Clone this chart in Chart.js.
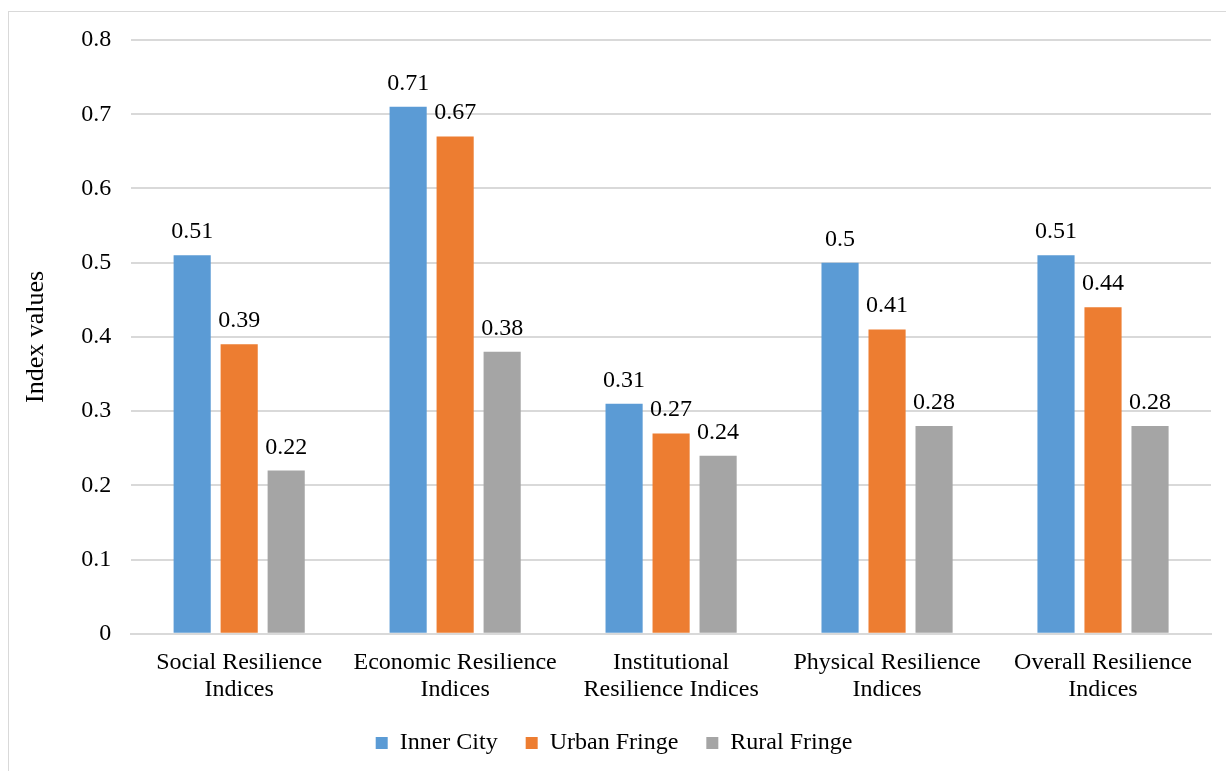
<!DOCTYPE html>
<html>
<head>
<meta charset="utf-8">
<script src="https://cdn.jsdelivr.net/npm/chart.js@4"></script>
<style>
  html, body { margin: 0; padding: 0; background: #fff; overflow: hidden; }
  #frame { position: absolute; left: 8px; top: 11px; width: 1240px; height: 780px; border: 1px solid #d9d9d9; }
  #wrap { position: absolute; left: 0; top: 0; width: 1226px; height: 771px; }
</style>
</head>
<body>
<div id="frame"></div>
<div id="wrap"><canvas id="chart"></canvas></div>
<script>
// categorías y valores
const categories = [
  ['Social Resilience', 'Indices'],
  ['Economic Resilience', 'Indices'],
  ['Institutional', 'Resilience Indices'],
  ['Physical Resilience', 'Indices'],
  ['Overall Resilience', 'Indices']
];
const innerCity = [0.51, 0.71, 0.31, 0.5, 0.51];
const urbanFringe = [0.39, 0.67, 0.27, 0.41, 0.44];
const ruralFringe = [0.22, 0.38, 0.24, 0.28, 0.28];
const yTicks = [0, 0.1, 0.2, 0.3, 0.4, 0.5, 0.6, 0.7, 0.8];

const FONT = "'Liberation Serif', 'Times New Roman', serif";

/* Etiquetas de valor encima de cada barra */
const valueLabels = {
  id: 'valueLabels',
  afterDatasetsDraw(chart) {
    const ctx = chart.ctx;
    ctx.save();
    ctx.font = '24px ' + FONT;
    ctx.fillStyle = '#000';
    ctx.textAlign = 'center';
    ctx.textBaseline = 'alphabetic';
    chart.data.datasets.forEach((ds, i) => {
      chart.getDatasetMeta(i).data.forEach((bar, j) => {
        ctx.fillText(String(ds.data[j]), bar.x, bar.y - 17);
      });
    });
    ctx.restore();
  }
};

new Chart(document.getElementById('chart'), {
  type: 'bar',
  data: {
    labels: categories,
    datasets: [
      { label: 'Inner City', data: innerCity, backgroundColor: '#5B9BD5' },
      { label: 'Urban Fringe', data: urbanFringe, backgroundColor: '#ED7D31' },
      { label: 'Rural Fringe', data: ruralFringe, backgroundColor: '#A5A5A5' }
    ]
  },
  options: {
    responsive: true,
    maintainAspectRatio: false,
    animation: false,
    layout: { padding: { top: 40, right: 15, left: 17, bottom: 6 } },
    datasets: { bar: { categoryPercentage: 0.653, barPercentage: 0.79 } },
    scales: {
      x: {
        grid: { display: false },
        border: { color: '#d9d9d9', width: 2 },
        ticks: { color: '#000', font: { family: FONT, size: 24, lineHeight: 1.15 }, padding: 7, maxRotation: 0 },
        // las etiquetas invaden el margen superior de la leyenda
        afterFit: (axis) => { axis.height -= 8; }
      },
      y: {
        min: 0, max: 0.8,
        afterBuildTicks: (axis) => { axis.ticks = yTicks.map(v => ({ value: v })); },
        grid: { color: '#d9d9d9', lineWidth: 2, drawTicks: false },
        border: { display: false },
        ticks: { color: '#000', font: { family: FONT, size: 24 }, padding: 20, callback: (v) => String(v) },
        title: { display: true, text: 'Index values', color: '#000', font: { family: FONT, size: 26 }, padding: { bottom: 9 } }
      }
    },
    plugins: {
      legend: {
        position: 'bottom',
        labels: { color: '#000', font: { family: FONT, size: 24 }, boxWidth: 12, boxHeight: 12, padding: 28 }
      },
      tooltip: { enabled: false }
    }
  },
  plugins: [valueLabels]
});
</script>
</body>
</html>
